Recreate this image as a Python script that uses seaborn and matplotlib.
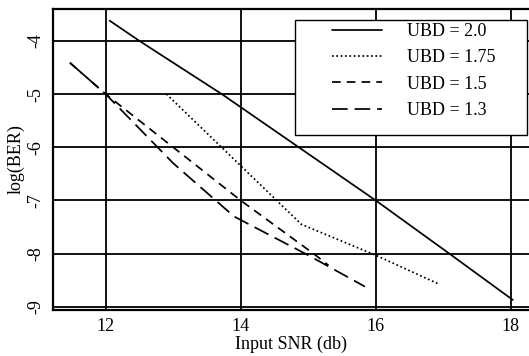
import matplotlib
matplotlib.use("Agg")
import matplotlib.pyplot as plt
from matplotlib.patches import Rectangle
import seaborn as sns
import pandas as pd

# Input SNR (db) and log(BER) for each upper bound distance (UBD)
snr_20 = [12.06, 12.5, 13.72, 16.0, 17.09, 18.03]
ber_20 = [-3.62, -4.0, -5.0, -7.0, -8.0, -8.87]

snr_175 = [12.9, 14.9, 16.0, 16.93]
ber_175 = [-5.0, -7.45, -8.03, -8.57]

snr_15 = [11.47, 12.0, 14.0, 15.1, 15.3]
ber_15 = [-4.41, -5.0, -7.0, -8.02, -8.22]

snr_13 = [11.47, 12.0, 13.0, 13.9, 15.0, 15.84]
ber_13 = [-4.41, -5.0, -6.3, -7.3, -8.03, -8.62]

labels = ["UBD = 2.0", "UBD = 1.75", "UBD = 1.5", "UBD = 1.3"]
x_ticks = [12, 14, 16, 18]
y_ticks = [-4, -5, -6, -7, -8, -9]

frames = []
for lab, xs, ys in zip(labels, [snr_20, snr_175, snr_15, snr_13],
                       [ber_20, ber_175, ber_15, ber_13]):
    frames.append(pd.DataFrame({"snr": xs, "ber": ys, "UBD": lab}))
df = pd.concat(frames, ignore_index=True)

sns.set_theme(style="white")
plt.rcParams["font.family"] = ["Liberation Serif", "DejaVu Serif"]

fig = plt.figure(figsize=(5.29, 3.56), dpi=100)
ax = fig.add_axes([0.1002, 0.1292, 0.8998, 0.8455])

dash_map = {
    "UBD = 2.0": "",
    "UBD = 1.75": (1.0, 1.5),
    "UBD = 1.5": (5.0, 3.5),
    "UBD = 1.3": (9.0, 4.0),
}
sns.lineplot(data=df, x="snr", y="ber", style="UBD", style_order=labels,
             dashes=dash_map, color="black", linewidth=1.25,
             estimator=None, sort=False, ax=ax)

ax.set_xlim(11.22, 18.27)
ax.set_ylim(-9.06, -3.40)
ax.set_xticks(x_ticks)
ax.set_yticks(y_ticks)
ax.set_xticklabels([str(v) for v in x_ticks], fontsize=13)
ax.set_yticklabels([str(v) for v in y_ticks], fontsize=13, rotation=90,
                   va="center")
ax.tick_params(length=0, pad=6, colors="black")
ax.grid(True, color="black", linewidth=1.3)
for side in ["left", "bottom", "top"]:
    ax.spines[side].set_color("black")
    ax.spines[side].set_linewidth(1.6)
ax.spines["right"].set_visible(False)

ax.set_xlabel("Input SNR (db)", fontsize=13, labelpad=0, color="black")
ax.set_ylabel("log(BER)", fontsize=13, labelpad=2, color="black")

# legend box drawn as its own patch so the padding can be uneven
box = Rectangle((0.508, 0.581), 0.488, 0.382, transform=ax.transAxes,
                facecolor="white", edgecolor="black", linewidth=1.0,
                zorder=5)
ax.add_patch(box)

handles, _ = ax.get_legend_handles_labels()
handles = handles[-4:]
leg = ax.legend(handles, labels, loc="center left",
                bbox_to_anchor=(332 / 529, 1 - 71 / 356),
                bbox_transform=fig.transFigure, borderaxespad=0,
                fontsize=13, frameon=False,
                handlelength=2.77, handletextpad=1.38, labelspacing=0.52,
                borderpad=0)
leg.set_zorder(6)
for t in leg.get_texts():
    t.set_color("black")

fig.savefig("out.png", dpi=100)
